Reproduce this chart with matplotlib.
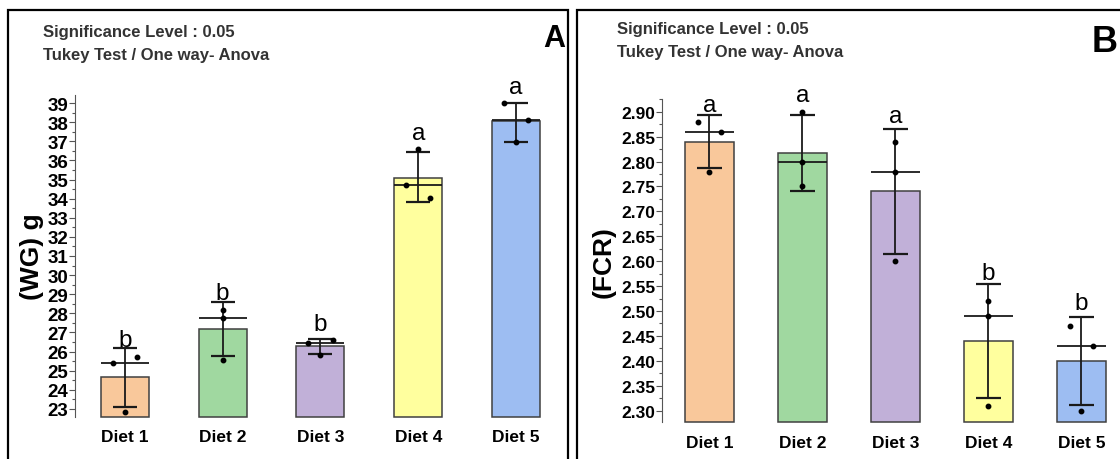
import matplotlib.pyplot as plt
import matplotlib.patches as patches
from matplotlib.ticker import MultipleLocator, FormatStrFormatter

plt.rcParams['font.family'] = ['Liberation Sans', 'DejaVu Sans']

diets = ['Diet 1', 'Diet 2', 'Diet 3', 'Diet 4', 'Diet 5']
bar_colors = ['#f9c89b', '#a0d8a0', '#c1b0d8', '#ffff9e', '#9dbdf2']

# panel A - weight gain (WG) g
wg_mean = [24.65, 27.2, 26.3, 35.1, 38.05]
wg_upper = [26.2, 28.6, 26.65, 36.45, 39.0]
wg_lower = [23.1, 25.75, 25.9, 33.8, 36.95]
wg_median = [25.4, 27.75, 26.45, 34.7, 38.1]
wg_points = [[25.4, 25.7, 22.85], [28.2, 27.75, 25.55], [26.45, 26.6, 25.8],
             [36.6, 34.7, 34.05], [39.0, 38.1, 36.95]]
wg_letters = ['b', 'b', 'b', 'a', 'a']
wg_letter_y = [26.27, 28.73, 27.15, 37.14, 39.5]

# panel B - feed conversion ratio (FCR)
fcr_mean = [2.84, 2.818, 2.74, 2.44, 2.40]
fcr_upper = [2.893, 2.893, 2.865, 2.554, 2.489]
fcr_lower = [2.788, 2.740, 2.615, 2.326, 2.311]
fcr_median = [2.86, 2.80, 2.78, 2.49, 2.43]
fcr_points = [[2.88, 2.86, 2.78], [2.90, 2.80, 2.75], [2.84, 2.78, 2.60],
              [2.52, 2.49, 2.31], [2.47, 2.43, 2.30]]
fcr_letters = ['a', 'a', 'a', 'b', 'b']
fcr_letter_y = [2.902, 2.922, 2.879, 2.564, 2.504]

# which side each replicate dot sits on (-1 left, 0 centre, 1 right)
wg_jitter = [[-1, 1, 0], [0, 0, 0], [-1, 1, 0], [0, -1, 1], [-1, 1, 0]]
fcr_jitter = [[-1, 1, 0], [0, 0, 0], [0, 0, 0], [0, 0, 0], [-1, 1, 0]]


def draw_panel(ax, means, upper, lower, median, points, jitter, letters, letter_y,
               ylim, width, tick_size):
    ax.set_ylim(ylim)
    base = ylim[0]
    x = list(range(len(means)))
    ax.bar(x, [m - base for m in means], width, bottom=base, color=bar_colors,
           edgecolor='#404040', linewidth=1.1, clip_on=False, zorder=2)
    for i in x:
        ax.vlines(i, lower[i], upper[i], color='#1a1a1a', lw=1.3, zorder=3)
        ax.hlines([lower[i], upper[i]], i - width / 4, i + width / 4,
                  color='#1a1a1a', lw=1.6, zorder=3)
        ax.hlines(median[i], i - width / 2, i + width / 2, color='#1a1a1a', lw=1.3, zorder=3)
        for p, j in zip(points[i], jitter[i]):
            ax.plot(i + j * 0.125, p, 'o', color='black', ms=3.2, zorder=4, clip_on=False)
        ax.text(i, letter_y[i], letters[i], ha='center', va='baseline', fontsize=17.5,
                zorder=5, clip_on=False)
    ax.set_xticks(x)
    ax.set_xticklabels(diets, fontsize=12.5, fontweight='bold')
    ax.tick_params(axis='x', length=0, pad=9)
    ax.tick_params(axis='y', which='major', length=4, width=0.8, color='#555555',
                   labelsize=tick_size, pad=1)
    ax.tick_params(axis='y', which='minor', length=2.5, width=0.8, color='#555555')
    for lab in ax.get_yticklabels():
        lab.set_fontweight('bold')
    for s in ['top', 'right', 'bottom']:
        ax.spines[s].set_visible(False)
    ax.spines['left'].set_color('#555555')
    ax.spines['left'].set_linewidth(0.8)


fig = plt.figure(figsize=(11.2, 4.6), dpi=100)

# panel A
axA = fig.add_axes([75 / 1120, 42 / 460, 485 / 1120, 322 / 460])
axA.yaxis.set_major_locator(MultipleLocator(1))
axA.yaxis.set_minor_locator(MultipleLocator(0.5))
draw_panel(axA, wg_mean, wg_upper, wg_lower, wg_median, wg_points, wg_jitter,
           wg_letters, wg_letter_y, (22.58, 39.42), 0.49, 13.5)
axA.set_xlim(-0.51, 4.45)
axA.set_ylabel('(WG) g', fontsize=19, fontweight='bold', labelpad=2)

# panel B
axB = fig.add_axes([662 / 1120, 36.7 / 460, 458 / 1120, 323.3 / 460])
axB.yaxis.set_major_locator(MultipleLocator(0.05))
axB.yaxis.set_minor_locator(MultipleLocator(0.025))
axB.yaxis.set_major_formatter(FormatStrFormatter('%.2f'))
draw_panel(axB, fcr_mean, fcr_upper, fcr_lower, fcr_median, fcr_points, fcr_jitter,
           fcr_letters, fcr_letter_y, (2.2767, 2.9255), 0.53, 12.5)
axB.set_xlim(-0.51, 4.415)
axB.set_ylabel('(FCR)', fontsize=19, fontweight='bold', labelpad=4)

# frames around each panel
fig.patches.append(patches.Rectangle((8 / 1120, -0.1), 560 / 1120, 1.1 - 11 / 460,
                                     transform=fig.transFigure, fill=False,
                                     edgecolor='black', lw=1.6))
fig.patches.append(patches.Rectangle((577 / 1120, -0.1), 560 / 1120, 1.1 - 11 / 460,
                                     transform=fig.transFigure, fill=False,
                                     edgecolor='black', lw=1.6))

# notes and panel letters
for x0, y1, y2 in [(43, 37, 60), (617, 34, 57)]:
    fig.text(x0 / 1120, 1 - y1 / 460, 'Significance Level : 0.05', fontsize=12,
             fontweight='bold', color='#333333', va='baseline')
    fig.text(x0 / 1120, 1 - y2 / 460, 'Tukey Test / One way- Anova', fontsize=12,
             fontweight='bold', color='#333333', va='baseline')
fig.text(565 / 1120, 1 - 47 / 460, 'A', fontsize=22, fontweight='bold', ha='right',
         va='baseline')
fig.text(1118 / 1120, 1 - 52 / 460, 'B', fontsize=26, fontweight='bold', ha='right',
         va='baseline')

fig.savefig('out.png', dpi=100)
